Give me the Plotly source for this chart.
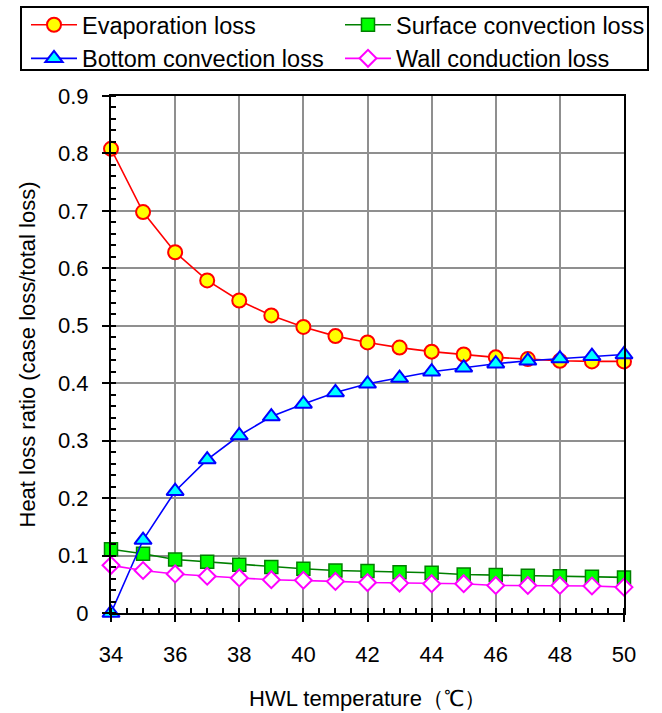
import plotly.graph_objects as go

temps = list(range(34, 51))
evaporation = [0.808, 0.698, 0.628, 0.579, 0.544, 0.518, 0.498, 0.482, 0.471, 0.462,
               0.455, 0.450, 0.445, 0.442, 0.439, 0.438, 0.438]
surface = [0.111, 0.103, 0.093, 0.089, 0.084, 0.080, 0.077, 0.074, 0.073, 0.071,
           0.070, 0.067, 0.066, 0.065, 0.064, 0.063, 0.062]
bottom = [0.0, 0.127, 0.212, 0.267, 0.309, 0.342, 0.364, 0.384, 0.399, 0.409,
          0.420, 0.427, 0.434, 0.439, 0.443, 0.447, 0.450]
wall = [0.083, 0.074, 0.068, 0.064, 0.061, 0.058, 0.057, 0.055, 0.053, 0.052,
        0.051, 0.051, 0.048, 0.048, 0.048, 0.047, 0.045]

names = ["Evaporation loss", "Surface convection loss",
         "Bottom convection loss", "Wall conduction loss"]
x_tick_vals = list(range(34, 51, 2))
y_tick_vals = [0, 0.1, 0.2, 0.3, 0.4, 0.5, 0.6, 0.7, 0.8, 0.9]
y_tick_text = ["0", "0.1", "0.2", "0.3", "0.4", "0.5", "0.6", "0.7", "0.8", "0.9"]
x_title = "HWL temperature（℃）"
y_title = "Heat loss ratio (case loss/total loss)"

FONT = "'Liberation Sans', Arial, sans-serif"
W, H = 662, 713
ML, MR, MT, MB = 111, 38, 96, 100
PW, PH = W - ML - MR, H - MT - MB

def px_x(px):
    return (px - ML) / PW

def px_y(py):
    return (H - MB - py) / PH

fig = go.Figure()
styles = [
    (evaporation, "#ff0000", dict(symbol="circle", size=14, color="#ffff00", line=dict(color="#ff0000", width=2)), "legend"),
    (surface, "#008000", dict(symbol="square", size=13, color="#00ff00", line=dict(color="#008000", width=1.5)), "legend2"),
    (bottom, "#0000ff", dict(symbol="triangle-up", size=15, color="#00ffff", line=dict(color="#0000ff", width=2)), "legend"),
    (wall, "#ff00ff", dict(symbol="diamond", size=13, color="#ffffff", line=dict(color="#ff00ff", width=2)), "legend2"),
]
for name, (vals, col, mk, lg) in zip(names, styles):
    fig.add_trace(go.Scatter(x=temps, y=vals, name=name, mode="lines+markers",
                             line=dict(color=col, width=1.6), marker=mk,
                             cliponaxis=False, legend=lg))

legend_common = dict(orientation="v", xref="container", yref="container",
                     xanchor="left", yanchor="top", borderwidth=0,
                     bgcolor="rgba(0,0,0,0)", font=dict(size=23.5, family=FONT),
                     itemwidth=46, tracegroupgap=0, traceorder="normal")

fig.update_layout(
    width=W, height=H,
    margin=dict(l=ML, r=MR, t=MT, b=MB, autoexpand=False),
    paper_bgcolor="white", plot_bgcolor="white",
    font=dict(family=FONT, size=22, color="black"),
    legend=dict(x=26 / W, y=1 - 3 / H, **legend_common),
    legend2=dict(x=340 / W, y=1 - 3 / H, **legend_common),
    xaxis=dict(range=[34, 50], tickvals=x_tick_vals, showgrid=True,
               gridcolor="#8f8f8f", gridwidth=1.5,
               showline=True, linecolor="black", linewidth=2, mirror=True,
               ticks="outside", ticklen=7, tickwidth=1.5, tickcolor="black",
               ticklabelstandoff=14,
               minor=dict(dtick=0.5, ticks="inside", ticklen=5, tickcolor="black",
                          tickwidth=1.5, showgrid=False),
               zeroline=False,
               title=dict(text=x_title, standoff=24, font=dict(size=22))),
    yaxis=dict(range=[0, 0.9], tickvals=y_tick_vals, ticktext=y_tick_text,
               showgrid=True, gridcolor="#8f8f8f", gridwidth=1.5,
               showline=True, linecolor="black", linewidth=2, mirror=True,
               ticks="outside", ticklen=7, tickwidth=1.5, tickcolor="black",
               ticklabelstandoff=9,
               minor=dict(dtick=0.02, ticks="inside", ticklen=5, tickcolor="black",
                          tickwidth=1.5, showgrid=False),
               zeroline=False),
    annotations=[dict(text=y_title, xref="paper", yref="paper",
                      x=px_x(27), y=0.5, xanchor="center", yanchor="middle",
                      textangle=-90, showarrow=False, font=dict(size=22))],
    shapes=[dict(type="rect", xref="paper", yref="paper",
                 x0=px_x(21), x1=px_x(648), y0=px_y(70), y1=px_y(7),
                 line=dict(color="black", width=2), fillcolor="rgba(0,0,0,0)",
                 layer="above")],
)

fig.write_html("out.html")
